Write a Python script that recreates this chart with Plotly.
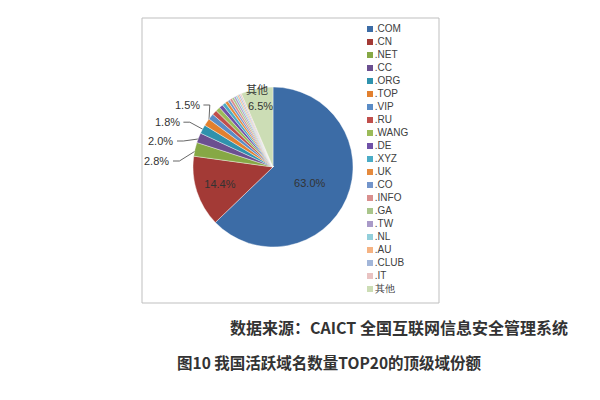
import math
import plotly.graph_objects as go

labels = [".COM", ".CN", ".NET", ".CC", ".ORG", ".TOP", ".VIP", ".RU", ".WANG", ".DE",
          ".XYZ", ".UK", ".CO", ".INFO", ".GA", ".TW", ".NL", ".AU", ".CLUB", ".IT", "其他"]
values = [63.0, 14.4, 2.8, 2.0, 1.8, 1.5, 1.2, 1.0, 0.9, 0.8,
          0.7, 0.6, 0.5, 0.5, 0.45, 0.4, 0.35, 0.3, 0.3, 0.3, 6.5]
colors = ["#3C6CA6", "#A33A36", "#86A845", "#6B4F90", "#2F92AD", "#E2802F",
          "#5A8CC6", "#C04F4C", "#9BBB59", "#7052A8", "#4BACC6", "#E58A3E",
          "#7395CB", "#D98F8E", "#A9C58B", "#A99AC8", "#92CFDB", "#F5B383",
          "#A2B6D9", "#E9C3C2", "#CCDDB5"]
inside_labels = [".COM", ".CN"]
# outside label placement (unit-radius coordinates of label right end)
outside_pos = {".NET": (-1.27, 0.075), ".CC": (-1.22, 0.325),
               ".ORG": (-1.14, 0.56), ".TOP": (-0.89, 0.775)}

total = sum(values)
mids = []
cum = 0.0
for v in values:
    mids.append(math.radians(360.0 * (cum + v / 2) / total))
    cum += v

texts = ["%.1f%%" % v if lab in inside_labels else "" for lab, v in zip(labels, values)]
positions = ["inside" if lab in inside_labels else "none" for lab in labels]

# pie geometry in figure pixels
cx, cy, r = 265, 159, 80
pie_dom_x = [(cx - r) / 600, (cx + r) / 600]
pie_dom_y = [1 - (cy + r) / 400, 1 - (cy - r) / 400]
ext = 1.7  # overlay axis extends left of the pie for outside labels
ov_dom_x = [(cx - ext * r) / 600, (cx + r) / 600]

fig = go.Figure()
fig.add_trace(go.Pie(
    labels=labels, values=values, text=texts, textinfo="text",
    textposition=positions, sort=False, direction="clockwise", rotation=0,
    marker=dict(colors=colors, line=dict(color="white", width=0.4)),
    textfont=dict(size=11, color="#333333", family="Liberation Sans"),
    insidetextorientation="horizontal",
    domain=dict(x=pie_dom_x, y=pie_dom_y),
    showlegend=False, hoverinfo="label+percent",
))

annotations = []
for lab, (lx, ly) in outside_pos.items():
    i = labels.index(lab)
    ex, ey = math.sin(mids[i]) * 0.97, math.cos(mids[i]) * 0.97
    fig.add_trace(go.Scatter(
        x=[lx + 0.02, lx + 0.1, ex], y=[ly, ly, ey], mode="lines",
        line=dict(color="#404040", width=0.8), xaxis="x2", yaxis="y2",
        showlegend=False, hoverinfo="skip", cliponaxis=False))
    annotations.append(dict(text="%.1f%%" % values[i], x=lx, y=ly, xref="x2", yref="y2",
                            xanchor="right", yanchor="middle", showarrow=False,
                            font=dict(size=11, color="#333333", family="Liberation Sans")))

io = labels.index("其他")
annotations.append(dict(text="其他", x=math.sin(mids[io]) * 1.0, y=math.cos(mids[io]) * 1.0,
                        xref="x2", yref="y2", showarrow=False,
                        font=dict(size=11, color="#333333", family="Noto Sans CJK SC")))
annotations.append(dict(text="%.1f%%" % values[io], x=math.sin(mids[io]) * 0.78,
                        y=math.cos(mids[io]) * 0.78, xref="x2", yref="y2", showarrow=False,
                        font=dict(size=11, color="#333333", family="Liberation Sans")))

# legend drawn as a scatter on hidden axes
fig.add_trace(go.Scatter(
    x=[0]*len(labels), y=list(range(len(labels))), mode="markers+text",
    text=labels, textposition="middle right",
    textfont=dict(size=10, color="#404040", family="Liberation Sans"),
    marker=dict(symbol="square", size=6, color=colors),
    cliponaxis=False, showlegend=False, hoverinfo="skip",
    xaxis="x", yaxis="y",
))

annotations += [
    dict(text="<b>数据来源：CAICT 全国互联网信息安全管理系统</b>", xref="paper", yref="paper",
         x=562/600, y=1-319/400, xanchor="right", yanchor="middle", showarrow=False,
         font=dict(size=16, color="#333333", family="Noto Sans CJK SC")),
    dict(text="<b>图10 我国活跃域名数量TOP20的顶级域份额</b>", xref="paper", yref="paper",
         x=167/600, y=1-354/400, xanchor="left", yanchor="middle", showarrow=False,
         font=dict(size=15.5, color="#333333", family="Noto Sans CJK SC")),
]

fig.update_layout(
    width=600, height=400, margin=dict(l=0, r=0, t=0, b=0),
    paper_bgcolor="white", plot_bgcolor="rgba(0,0,0,0)",
    xaxis=dict(domain=[362/600, 432/600], range=[0, 10], visible=False, fixedrange=True),
    yaxis=dict(domain=[1-281/400, 1-21/400], range=[len(labels)-1, 0], visible=False, fixedrange=True),
    xaxis2=dict(domain=ov_dom_x, range=[-ext, 1], visible=False, fixedrange=True),
    yaxis2=dict(domain=pie_dom_y, range=[-1, 1], visible=False, fixedrange=True),
    shapes=[dict(type="rect", xref="paper", yref="paper", x0=134/600, x1=431/600,
                 y0=1-295/400, y1=1-10/400, line=dict(color="#BFBFBF", width=1))],
    annotations=annotations,
)
fig.write_html("out.html")
